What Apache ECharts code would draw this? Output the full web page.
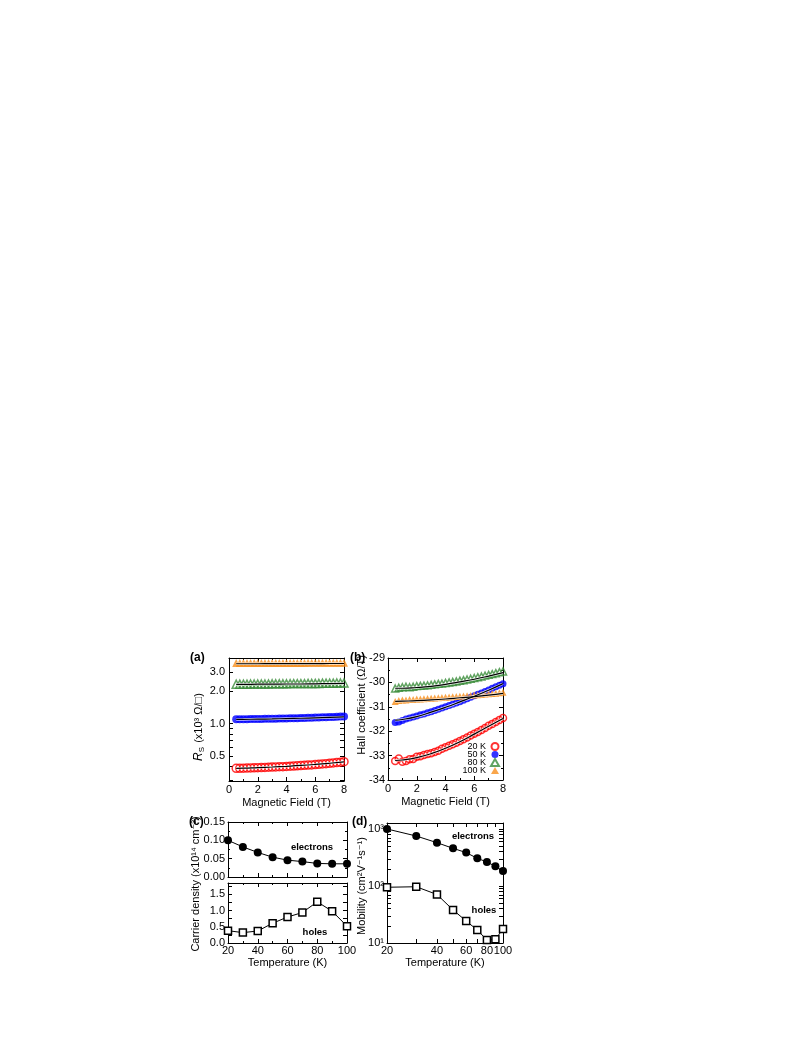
<!DOCTYPE html>
<html>
<head>
<meta charset="utf-8">
<script src="https://cdn.jsdelivr.net/npm/echarts@6/dist/echarts.min.js"></script>
<style>
  html, body { margin: 0; padding: 0; background: #fff; }
  #chart { width: 808px; height: 1045px; }
</style>
</head>
<body>
<div id="chart"></div>
<script>
// ---- data ----
// (a)/(b): magnetic field sweep (T)
const field = [0.5, 0.75, 1.0, 1.25, 1.5, 1.75, 2.0, 2.25, 2.5, 2.75, 3.0, 3.25, 3.5, 3.75, 4.0, 4.25,
  4.5, 4.75, 5.0, 5.25, 5.5, 5.75, 6.0, 6.25, 6.5, 6.75, 7.0, 7.25, 7.5, 7.75, 8.0];
const fitField = [0.5, 1, 2, 3, 4, 5, 6, 7, 8];

// (a) sheet resistance, x10^3 ohm/sq
const rs20 = [0.385, 0.385, 0.386, 0.387, 0.388, 0.389, 0.390, 0.391, 0.392, 0.394, 0.395, 0.396, 0.398, 0.399, 0.401, 0.403,
  0.404, 0.406, 0.408, 0.410, 0.412, 0.414, 0.417, 0.419, 0.422, 0.425, 0.428, 0.431, 0.435, 0.439, 0.443];
const rs50 = [1.092, 1.093, 1.095, 1.096, 1.098, 1.099, 1.101, 1.102, 1.104, 1.106, 1.107, 1.109, 1.111, 1.113, 1.115, 1.117,
  1.119, 1.121, 1.124, 1.126, 1.129, 1.131, 1.134, 1.137, 1.140, 1.143, 1.147, 1.150, 1.154, 1.158, 1.162];
const rs80 = [2.31, 2.31, 2.31, 2.31, 2.32, 2.32, 2.32, 2.32, 2.32, 2.32, 2.33, 2.33, 2.33, 2.33, 2.33, 2.34,
  2.34, 2.34, 2.34, 2.34, 2.35, 2.35, 2.35, 2.35, 2.36, 2.36, 2.36, 2.36, 2.37, 2.37, 2.37];
const rs100 = [3.62, 3.62, 3.62, 3.62, 3.62, 3.62, 3.62, 3.62, 3.63, 3.63, 3.63, 3.63, 3.63, 3.63, 3.63, 3.63,
  3.63, 3.63, 3.63, 3.63, 3.64, 3.64, 3.64, 3.64, 3.64, 3.64, 3.64, 3.64, 3.64, 3.64, 3.64];
const rsFit20 = [0.385, 0.386, 0.391, 0.396, 0.402, 0.409, 0.418, 0.429, 0.442];
const rsFit50 = [1.09, 1.092, 1.097, 1.103, 1.11, 1.118, 1.127, 1.138, 1.15];
const rsFit80 = [2.30, 2.30, 2.31, 2.31, 2.32, 2.32, 2.33, 2.34, 2.35];
const rsFit100 = [3.57, 3.57, 3.57, 3.58, 3.58, 3.58, 3.58, 3.59, 3.59];
const rsTicks = [0.3, 0.4, 0.5, 0.6, 0.7, 0.8, 0.9, 1, 2, 3, 4];
const rsLabels = [0.5, 1, 2, 3];

// (b) Hall coefficient, ohm/T
const rh20 = [-33.22, -33.12, -33.25, -33.22, -33.15, -33.14, -33.05, -33.03, -32.98, -32.93, -32.90, -32.85, -32.80, -32.72, -32.66, -32.60,
  -32.53, -32.47, -32.40, -32.33, -32.26, -32.18, -32.10, -32.03, -31.95, -31.87, -31.78, -31.70, -31.62, -31.54, -31.46];
const rh50 = [-31.64, -31.62, -31.56, -31.50, -31.46, -31.42, -31.38, -31.33, -31.29, -31.24, -31.20, -31.15, -31.10, -31.05, -31.00, -30.95,
  -30.90, -30.84, -30.79, -30.73, -30.67, -30.61, -30.55, -30.49, -30.43, -30.37, -30.31, -30.24, -30.18, -30.12, -30.06];
const rh80 = [-30.25, -30.22, -30.20, -30.18, -30.20, -30.18, -30.15, -30.14, -30.13, -30.12, -30.10, -30.08, -30.06, -30.05, -30.02, -30.00,
  -29.98, -29.96, -29.93, -29.91, -29.88, -29.85, -29.82, -29.79, -29.76, -29.72, -29.69, -29.66, -29.62, -29.58, -29.55];
const rh100 = [-30.78, -30.74, -30.72, -30.72, -30.70, -30.70, -30.68, -30.68, -30.67, -30.66, -30.65, -30.64, -30.63, -30.62, -30.61, -30.60,
  -30.59, -30.58, -30.57, -30.56, -30.55, -30.54, -30.52, -30.51, -30.50, -30.48, -30.47, -30.45, -30.44, -30.42, -30.40];
const rhFit20 = [-33.2, -33.18, -33.08, -32.92, -32.7, -32.43, -32.12, -31.8, -31.48];
const rhFit50 = [-31.55, -31.52, -31.4, -31.22, -31.02, -30.8, -30.57, -30.32, -30.05];
const rhFit80 = [-30.24, -30.24, -30.21, -30.16, -30.08, -29.98, -29.87, -29.74, -29.6];
const rhFit100 = [-30.78, -30.77, -30.75, -30.72, -30.68, -30.63, -30.58, -30.52, -30.45];

// (c)/(d) vs temperature (K)
const temps = [20, 30, 40, 50, 60, 70, 80, 90, 100];
const nElectrons = [0.100, 0.082, 0.067, 0.054, 0.046, 0.042, 0.037, 0.036, 0.036];
const nHoles = [0.38, 0.32, 0.37, 0.61, 0.80, 0.94, 1.27, 0.98, 0.52];
const muElectrons = [1000, 753, 575, 458, 385, 306, 264, 221, 183];
const muHoles = [95, 97, 71, 38, 24.3, 16.9, 11.3, 11.6, 17.6];
const tempTicks = [20, 30, 40, 50, 60, 70, 80, 90, 100];
const tempLabels = [20, 40, 60, 80, 100];
const muTicks = [20, 30, 40, 50, 60, 70, 80, 90, 100, 200, 300, 400, 500, 600, 700, 800, 900, 1000];
const muLabels = [10, 100, 1000];

const names = ['20 K', '50 K', '80 K', '100 K'];
const RED = '#ff0000', BLUE = '#0000ff', GREEN = '#3a8c3a', ORANGE = '#f7901e';
const FONT = "'Liberation Sans', Arial, 'DejaVu Sans', sans-serif";

const lg = v => Math.log10(v);
const same = v => v;
const sup = { '0': '⁰', '1': '¹', '2': '²', '3': '³' };

function ax(gridIndex, position, o) {
  return Object.assign({
    gridIndex: gridIndex,
    position: position,
    type: 'value',
    axisLine: { show: true, onZero: false, lineStyle: { color: '#000', width: 1 } },
    axisTick: { show: true, inside: true, length: 4, lineStyle: { color: '#000', width: 1 } },
    axisLabel: { show: false },
    splitLine: { show: false }
  }, o);
}
function labels(o) {
  return Object.assign({ show: true, color: '#000', fontSize: 11, fontFamily: FONT, margin: 3 }, o);
}
const ticks = o => Object.assign({ show: true, inside: true, length: 4, lineStyle: { color: '#000', width: 1 } }, o);
const minor = { show: true, splitNumber: 2, length: 2, lineStyle: { color: '#000', width: 1 } };

function dots(name, xi, xs, ys, tf, symbol, color, open, size) {
  return {
    type: 'scatter', name: name, xAxisIndex: xi, yAxisIndex: xi,
    symbol: symbol, symbolSize: size, silent: true, z: 2,
    itemStyle: open ? { color: 'rgba(255,255,255,0)', borderColor: color, borderWidth: 1.5 } : { color: color },
    data: xs.map((x, k) => [x, tf(ys[k])])
  };
}
function fit(xi, xs, ys, tf) {
  const d = xs.map((x, k) => [x, tf(ys[k])]);
  return [
    { type: 'line', xAxisIndex: xi, yAxisIndex: xi, data: d, smooth: true, symbol: 'none', silent: true, z: 3,
      lineStyle: { color: 'rgba(255,255,255,0.8)', width: 2.6 } },
    { type: 'line', xAxisIndex: xi, yAxisIndex: xi, data: d, smooth: true, symbol: 'none', silent: true, z: 4,
      lineStyle: { color: '#000', width: 1.2 } }
  ];
}
function tline(xi, ys, tf, symbol, filled, size) {
  return {
    type: 'line', xAxisIndex: xi, yAxisIndex: xi, silent: true,
    data: temps.map((t, k) => [xi === 8 ? lg(t) : t, tf(ys[k])]),
    symbol: symbol, symbolSize: size, showSymbol: true,
    lineStyle: { color: '#000', width: 1 },
    itemStyle: filled ? { color: '#000' } : { color: '#fff', borderColor: '#000', borderWidth: 1.5 }
  };
}

const fieldName = {
  name: 'Magnetic Field (T)', nameLocation: 'middle', nameGap: 16,
  nameTextStyle: { color: '#000', fontSize: 11, fontFamily: FONT }
};
const tempName = {
  name: 'Temperature (K)', nameLocation: 'middle', nameGap: 14,
  nameTextStyle: { color: '#000', fontSize: 11, fontFamily: FONT }
};

const xAxis = [
  ax(0, 'bottom', Object.assign({ min: 0, max: 8, interval: 2, minorTick: minor, axisLabel: labels({ margin: 3 }) }, fieldName)),
  ax(0, 'top', { min: 0, max: 8, interval: 2, minorTick: minor }),
  ax(1, 'bottom', Object.assign({ min: 0, max: 8, interval: 2, minorTick: minor, axisLabel: labels({ margin: 3 }) }, fieldName)),
  ax(1, 'top', { min: 0, max: 8, interval: 2, minorTick: minor }),
  ax(2, 'bottom', { min: 20, max: 100, interval: 20, minorTick: minor }),
  ax(2, 'top', { min: 20, max: 100, interval: 20, minorTick: minor }),
  ax(3, 'bottom', Object.assign({ min: 20, max: 100, interval: 20, minorTick: minor, axisLabel: labels({ margin: 2 }) }, tempName)),
  ax(3, 'top', { min: 20, max: 100, interval: 20, minorTick: minor }),
  ax(4, 'bottom', Object.assign({
    min: lg(20), max: 2,
    axisTick: ticks({ customValues: tempTicks.map(lg) }),
    axisLabel: labels({ margin: 2, customValues: tempLabels.map(lg), formatter: v => String(Math.round(Math.pow(10, v))) })
  }, tempName)),
  ax(4, 'top', { min: lg(20), max: 2, axisTick: ticks({ customValues: tempTicks.map(lg) }) })
];

const yAxis = [
  ax(0, 'left', {
    min: -0.532, max: 0.606,
    axisTick: ticks({ customValues: rsTicks.map(lg) }),
    axisLabel: labels({ margin: 4, customValues: rsLabels.map(lg), formatter: v => Math.pow(10, v).toFixed(1) })
  }),
  ax(0, 'right', { min: -0.532, max: 0.606, axisTick: ticks({ customValues: rsTicks.map(lg) }) }),
  ax(1, 'left', { min: -34, max: -29, interval: 1, minorTick: minor, axisLabel: labels({ margin: 3 }) }),
  ax(1, 'right', { min: -34, max: -29, interval: 1, minorTick: minor }),
  ax(2, 'left', { min: 0, max: 0.15, interval: 0.05, minorTick: minor, axisLabel: labels({ margin: 3, formatter: v => v.toFixed(2) }) }),
  ax(2, 'right', { min: 0, max: 0.15, interval: 0.05, minorTick: minor }),
  ax(3, 'left', {
    min: 0, max: 1.85,
    axisTick: ticks({ customValues: [0, 0.25, 0.5, 0.75, 1, 1.25, 1.5, 1.75] }),
    axisLabel: labels({ margin: 3, customValues: [0, 0.5, 1, 1.5], formatter: v => v.toFixed(1) })
  }),
  ax(3, 'right', { min: 0, max: 1.85, axisTick: ticks({ customValues: [0, 0.25, 0.5, 0.75, 1, 1.25, 1.5, 1.75] }) }),
  ax(4, 'left', {
    min: 1, max: 3.105,
    axisTick: ticks({ customValues: muTicks.map(lg) }),
    axisLabel: labels({ margin: 3, customValues: muLabels.map(lg), formatter: v => '10' + sup[String(Math.round(v))] })
  }),
  ax(4, 'right', { min: 1, max: 3.105, axisTick: ticks({ customValues: muTicks.map(lg) }) })
];

// axis index = 2 * grid index: 0 (a), 2 (b), 4 (c top), 6 (c bottom), 8 (d)
const series = [
  dots(names[0], 0, field, rs20, lg, 'circle', RED, true, 8),
  dots(names[1], 0, field, rs50, lg, 'circle', BLUE, false, 8),
  dots(names[2], 0, field, rs80, lg, 'triangle', GREEN, true, 8),
  dots(names[3], 0, field, rs100, lg, 'triangle', ORANGE, false, 8),
  ...fit(0, fitField, rsFit20, lg), ...fit(0, fitField, rsFit50, lg),
  ...fit(0, fitField, rsFit80, lg), ...fit(0, fitField, rsFit100, lg),

  dots(names[0], 2, field, rh20, same, 'circle', RED, true, 7),
  dots(names[1], 2, field, rh50, same, 'circle', BLUE, false, 7),
  dots(names[2], 2, field, rh80, same, 'triangle', GREEN, true, 7),
  dots(names[3], 2, field, rh100, same, 'triangle', ORANGE, false, 7),
  ...fit(2, fitField, rhFit20, same), ...fit(2, fitField, rhFit50, same),
  ...fit(2, fitField, rhFit80, same), ...fit(2, fitField, rhFit100, same),

  tline(4, nElectrons, same, 'circle', true, 8),
  tline(6, nHoles, same, 'rect', false, 7),
  tline(8, muElectrons, lg, 'circle', true, 8),
  tline(8, muHoles, lg, 'rect', false, 7)
];

function txt(text, x, y, o) {
  return {
    type: 'text', x: x, y: y, silent: true,
    style: Object.assign({ text: text, fill: '#000', fontSize: 11, fontFamily: FONT, align: 'center', verticalAlign: 'middle' }, o)
  };
}
function vtxt(text, x, y, o) {
  const t = txt(text, x, y, o);
  t.rotation = Math.PI / 2;
  return t;
}

const option = {
  animation: false,
  backgroundColor: '#fff',
  grid: [
    { left: 229, top: 658, width: 115, height: 123 },
    { left: 388, top: 658, width: 115, height: 122 },
    { left: 228, top: 822, width: 119, height: 55 },
    { left: 228, top: 883, width: 119, height: 60 },
    { left: 387, top: 823, width: 116, height: 120 }
  ],
  xAxis: xAxis,
  yAxis: yAxis,
  legend: {
    data: names, orient: 'vertical', right: 308, top: 742, padding: 0,
    align: 'right', selectedMode: false,
    itemWidth: 8, itemHeight: 7, itemGap: -1,
    textStyle: { color: '#000', fontSize: 9, fontFamily: FONT, lineHeight: 8, padding: [0, 0, 0, 0] }
  },
  series: series,
  graphic: [
    txt('(a)', 190, 658, { fontWeight: 'bold', fontSize: 12, align: 'left' }),
    txt('(b)', 350, 658, { fontWeight: 'bold', fontSize: 12, align: 'left' }),
    txt('(c)', 189, 822, { fontWeight: 'bold', fontSize: 12, align: 'left' }),
    txt('(d)', 352, 822, { fontWeight: 'bold', fontSize: 12, align: 'left' }),
    vtxt('{i|R}{s|S} (x10³ Ω/□)', 199, 727, {
      rich: { i: { fontStyle: 'italic', fontSize: 12, fontFamily: FONT, fill: '#000' },
              s: { fontSize: 8, fontFamily: FONT, fill: '#000', padding: [5, 1, 0, 0] } }
    }),
    vtxt('Hall coefficient (Ω/T)', 362, 705, {}),
    vtxt('Carrier density (x10¹⁴ cm⁻²)', 196, 884, {}),
    vtxt('Mobility (cm²V⁻¹s⁻¹)', 362, 886, {}),
    txt('electrons', 312, 847, { fontSize: 9.5, fontWeight: 'bold' }),
    txt('holes', 315, 932, { fontSize: 9.5, fontWeight: 'bold' }),
    txt('electrons', 473, 836, { fontSize: 9.5, fontWeight: 'bold' }),
    txt('holes', 484, 910, { fontSize: 9.5, fontWeight: 'bold' })
  ]
};

const chart = echarts.init(document.getElementById('chart'));
chart.setOption(option);
</script>
</body>
</html>
